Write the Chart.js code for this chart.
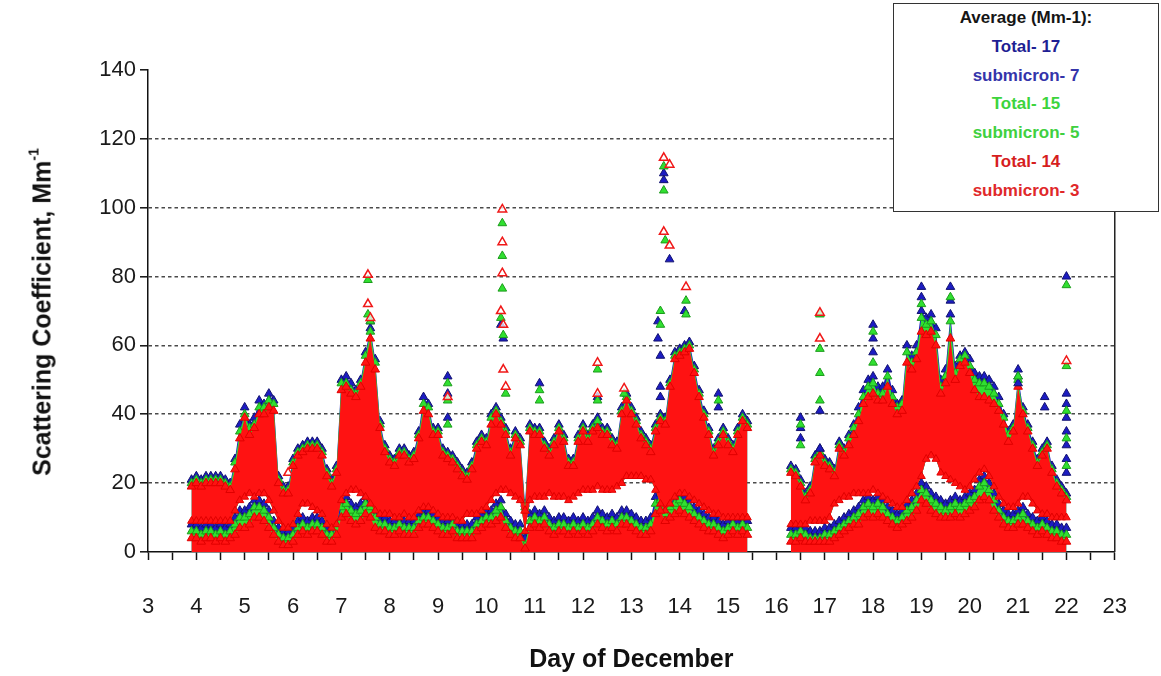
<!DOCTYPE html>
<html>
<head>
<meta charset="utf-8">
<script src="https://cdn.jsdelivr.net/npm/chart.js@4.4.1/dist/chart.umd.min.js"></script>
<style>
  html, body { margin: 0; padding: 0; background: #fff; }
  #wrap { position: relative; width: 1161px; height: 676px; overflow: hidden; background: #fff; }
  #c { position: absolute; left: 0; top: 0; }
  #ytitle {
    position: absolute; left: 42px; top: 312px;
    transform: translate(-50%, -50%) rotate(-90deg);
    white-space: nowrap; color: #111;
    font: bold 25px "Liberation Sans", Arial, sans-serif;
  }
  #ytitle sup { font-size: 14px; position: relative; top: -3px; }
  #avg {
    position: absolute; left: 893px; top: 3px; width: 266px; height: 209px;
    border: 1.5px solid #333; background: #fff; box-sizing: border-box;
    text-align: center; padding-top: 0;
    font: bold 17px "Liberation Sans", Arial, sans-serif; line-height: 28.8px;
  }
</style>
</head>
<body>
<div id="wrap">
  <canvas id="c" width="1161" height="676"></canvas>
  <div id="ytitle">Scattering Coefficient, Mm<sup>-1</sup></div>
  <div id="avg"></div>
</div>
<script>
// Readings every 0.1 day starting at day 3.9; null = instrument offline (15.5 - 16.2)
const T0 = 3.9, STEP = 0.1;

// Upper envelope of the total-scattering points, per nephelometer colour
const blueTotalHi = [
  /* 3.9 */ 21,
  /* 4 */ 22, 21, 22, 22, 22, 22, 21, 20, 27, 37,
  /* 5 */ 42, 37, 39, 44, 43, 46, 44, 22, 19, 19,
  /* 6 */ 27, 30, 31, 32, 32, 32, 30, 24, 21, 25,
  /* 7 */ 50, 51, 49, 47, 50, 58, 65, 56, 38, 31,
  /* 8 */ 28, 27, 30, 30, 28, 29, 35, 45, 43, 36,
  /* 9 */ 36, 30, 29, 28, 26, 24, 23, 26, 32, 34,
  /* 10 */ 33, 40, 42, 39, 36, 30, 35, 33, 14, 37,
  /* 11 */ 36, 36, 32, 30, 33, 37, 34, 27, 27, 34,
  /* 12 */ 37, 34, 37, 39, 36, 36, 33, 32, 42, 46,
  /* 13 */ 42, 39, 35, 33, 31, 37, 40, 39, 50, 58,
  /* 14 */ 59, 60, 61, 54, 47, 41, 36, 30, 33, 36,
  /* 15 */ 33, 31, 36, 40, 38, null, null, null, null, null,
  /* 16 */ null, null, null, 25, 24, 21, 17, 19, 28, 30,
  /* 17 */ 27, 26, 24, 32, 30, 34, 37, 42, 47, 50,
  /* 18 */ 51, 48, 48, 53, 47, 43, 44, 60, 57, 60,
  /* 19 */ 70, 68, 69, 65, 50, 53, 69, 54, 57, 58,
  /* 20 */ 56, 52, 51, 51, 50, 48, 45, 40, 35, 37,
  /* 21 */ 51, 42, 37, 32, 27, 30, 32, 25, 21, 19,
  /* 22 */ 17
];
const greenTotalHi = [
  /* 3.9 */ 20,
  /* 4 */ 21, 20, 21, 21, 21, 21, 20, 19, 26, 35,
  /* 5 */ 40, 36, 37, 42, 42, 44, 43, 21, 18, 18,
  /* 6 */ 26, 29, 30, 31, 31, 31, 29, 23, 20, 24,
  /* 7 */ 49, 49, 47, 46, 49, 57, 64, 55, 37, 30,
  /* 8 */ 27, 26, 29, 29, 27, 28, 34, 43, 42, 35,
  /* 9 */ 35, 29, 28, 27, 25, 23, 22, 25, 31, 33,
  /* 10 */ 32, 39, 41, 38, 35, 29, 34, 32, 13, 36,
  /* 11 */ 35, 35, 31, 29, 32, 36, 33, 26, 26, 33,
  /* 12 */ 36, 33, 36, 38, 35, 35, 32, 31, 41, 45,
  /* 13 */ 41, 38, 34, 32, 30, 36, 39, 38, 49, 57,
  /* 14 */ 58, 59, 60, 53, 46, 40, 35, 29, 32, 35,
  /* 15 */ 32, 30, 35, 39, 37, null, null, null, null, null,
  /* 16 */ null, null, null, 24, 23, 20, 16, 18, 27, 29,
  /* 17 */ 26, 25, 23, 31, 29, 33, 36, 40, 45, 48,
  /* 18 */ 49, 46, 46, 51, 45, 42, 43, 58, 55, 58,
  /* 19 */ 68, 66, 67, 63, 48, 51, 67, 52, 56, 57,
  /* 20 */ 54, 50, 49, 49, 48, 46, 43, 39, 34, 36,
  /* 21 */ 50, 41, 36, 31, 26, 29, 31, 24, 20, 18,
  /* 22 */ 16
];
const redTotalHi = [
  /* 3.9 */ 19,
  /* 4 */ 20, 19, 20, 20, 20, 20, 19, 18, 24, 33,
  /* 5 */ 39, 34, 36, 40, 40, 42, 41, 20, 17, 17,
  /* 6 */ 25, 28, 29, 30, 30, 30, 28, 22, 19, 23,
  /* 7 */ 47, 48, 46, 45, 48, 55, 62, 53, 36, 29,
  /* 8 */ 26, 25, 28, 28, 26, 27, 33, 41, 40, 34,
  /* 9 */ 34, 28, 27, 26, 24, 22, 21, 24, 30, 32,
  /* 10 */ 31, 37, 40, 37, 34, 28, 33, 31, 12, 35,
  /* 11 */ 34, 34, 30, 28, 31, 35, 32, 25, 25, 32,
  /* 12 */ 35, 32, 35, 36, 34, 34, 31, 30, 40, 44,
  /* 13 */ 40, 37, 33, 31, 29, 35, 38, 37, 48, 56,
  /* 14 */ 57, 58, 59, 52, 45, 39, 34, 28, 31, 34,
  /* 15 */ 31, 29, 34, 38, 36, null, null, null, null, null,
  /* 16 */ null, null, null, 23, 22, 19, 15, 17, 26, 28,
  /* 17 */ 25, 24, 22, 30, 28, 31, 34, 38, 43, 45,
  /* 18 */ 46, 44, 44, 48, 43, 40, 41, 55, 53, 56,
  /* 19 */ 64, 63, 64, 60, 46, 49, 62, 50, 54, 55,
  /* 20 */ 52, 47, 45, 45, 44, 43, 41, 37, 32, 35,
  /* 21 */ 48, 40, 35, 30, 25, 28, 30, 23, 19, 17,
  /* 22 */ 15
];
// Lower edge of the total-scattering cloud
const redTotalLo = [
  /* 3.9 */ 9,
  /* 4 */ 9, 9, 9, 9, 9, 9, 9, 9, 12, 15,
  /* 5 */ 16, 17, 16, 17, 17, 15, 12, 9, 7, 7,
  /* 6 */ 8, 11, 14, 14, 13, 12, 11, 8, 7, 8,
  /* 7 */ 15, 17, 18, 18, 17, 16, 14, 12, 11, 11,
  /* 8 */ 11, 10, 10, 11, 10, 10, 12, 13, 13, 12,
  /* 9 */ 11, 10, 10, 10, 9, 9, 11, 11, 11, 12,
  /* 10 */ 13, 15, 17, 18, 18, 17, 16, 15, 6, 15,
  /* 11 */ 16, 16, 16, 17, 16, 16, 16, 15, 16, 17,
  /* 12 */ 18, 18, 18, 19, 18, 18, 18, 19, 20, 22,
  /* 13 */ 22, 22, 22, 21, 21, 18, 14, 12, 14, 16,
  /* 14 */ 17, 17, 16, 15, 14, 13, 12, 11, 11, 10,
  /* 15 */ 10, 10, 10, 10, 10, null, null, null, null, null,
  /* 16 */ null, null, null, 8, 8, 8, 8, 9, 9, 9,
  /* 17 */ 9, 10, 14, 15, 16, 16, 17, 17, 17, 17,
  /* 18 */ 18, 17, 16, 15, 14, 13, 13, 15, 17, 19,
  /* 19 */ 22, 27, 28, 27, 23, 22, 21, 20, 19, 18,
  /* 20 */ 19, 21, 23, 24, 22, 19, 16, 14, 13, 13,
  /* 21 */ 14, 16, 16, 14, 12, 11, 11, 10, 10, 10,
  /* 22 */ 10
];

// Upper envelope of the submicron points
const blueSubHi = [
  /* 3.9 */ 8,
  /* 4 */ 8, 7, 8, 8, 7, 8, 7, 8, 10, 12,
  /* 5 */ 12, 13, 15, 15, 14, 12, 9, 7, 6, 6,
  /* 6 */ 7, 9, 10, 9, 10, 10, 9, 7, 7, 9,
  /* 7 */ 15, 16, 14, 13, 14, 16, 15, 12, 10, 10,
  /* 8 */ 9, 9, 10, 9, 9, 9, 11, 12, 12, 11,
  /* 9 */ 10, 9, 9, 10, 8, 8, 8, 8, 10, 11,
  /* 10 */ 12, 12, 14, 15, 11, 9, 8, 8, 4, 11,
  /* 11 */ 12, 11, 12, 10, 9, 10, 10, 9, 10, 9,
  /* 12 */ 10, 9, 10, 12, 11, 10, 11, 10, 12, 12,
  /* 13 */ 11, 10, 9, 9, 10, 16, 17, 13, 15, 16,
  /* 14 */ 17, 16, 15, 13, 12, 11, 10, 10, 9, 8,
  /* 15 */ 9, 10, 9, 10, 9, null, null, null, null, null,
  /* 16 */ null, null, null, 7, 7, 8, 7, 6, 6, 6,
  /* 17 */ 7, 7, 8, 9, 10, 11, 12, 13, 15, 16,
  /* 18 */ 15, 16, 15, 13, 12, 11, 12, 14, 15, 17,
  /* 19 */ 20, 19, 17, 16, 15, 14, 15, 16, 15, 16,
  /* 20 */ 17, 18, 21, 22, 20, 17, 14, 12, 11, 11,
  /* 21 */ 12, 13, 11, 10, 9, 10, 9, 8, 8, 7,
  /* 22 */ 7
];
const greenSubHi = [
  /* 3.9 */ 6,
  /* 4 */ 6, 5, 6, 6, 5, 6, 5, 6, 8, 10,
  /* 5 */ 10, 11, 13, 13, 12, 10, 7, 5, 4, 4,
  /* 6 */ 5, 7, 8, 7, 8, 8, 7, 5, 5, 7,
  /* 7 */ 13, 14, 12, 11, 12, 14, 13, 10, 8, 8,
  /* 8 */ 7, 7, 8, 7, 7, 7, 9, 10, 10, 9,
  /* 9 */ 8, 7, 7, 8, 6, 6, 6, 6, 8, 9,
  /* 10 */ 10, 10, 12, 13, 9, 7, 6, 6, 2, 9,
  /* 11 */ 10, 9, 10, 8, 7, 8, 8, 7, 8, 7,
  /* 12 */ 8, 7, 8, 10, 9, 8, 9, 8, 10, 10,
  /* 13 */ 9, 8, 7, 7, 8, 14, 15, 11, 13, 14,
  /* 14 */ 15, 14, 13, 11, 10, 9, 8, 8, 7, 6,
  /* 15 */ 7, 8, 7, 8, 7, null, null, null, null, null,
  /* 16 */ null, null, null, 5, 5, 6, 5, 4, 4, 4,
  /* 17 */ 5, 5, 6, 7, 8, 9, 10, 11, 13, 14,
  /* 18 */ 13, 14, 13, 11, 10, 9, 10, 12, 13, 15,
  /* 19 */ 18, 17, 15, 14, 13, 12, 13, 14, 13, 14,
  /* 20 */ 15, 16, 19, 20, 18, 15, 12, 10, 9, 9,
  /* 21 */ 10, 11, 9, 8, 7, 8, 7, 6, 6, 5,
  /* 22 */ 5
];
const redSubHi = [
  /* 3.9 */ 4,
  /* 4 */ 4, 3, 4, 4, 3, 4, 3, 4, 5, 7,
  /* 5 */ 7, 8, 10, 10, 9, 7, 5, 3, 2, 2,
  /* 6 */ 3, 5, 6, 5, 6, 6, 5, 3, 3, 5,
  /* 7 */ 10, 11, 9, 8, 9, 11, 10, 7, 6, 6,
  /* 8 */ 5, 5, 6, 5, 5, 5, 7, 8, 8, 7,
  /* 9 */ 6, 5, 5, 6, 4, 4, 4, 4, 6, 7,
  /* 10 */ 8, 8, 9, 10, 7, 5, 4, 4, 1, 7,
  /* 11 */ 8, 7, 8, 6, 5, 6, 6, 5, 6, 5,
  /* 12 */ 6, 5, 6, 8, 7, 6, 7, 6, 8, 8,
  /* 13 */ 7, 6, 5, 5, 6, 11, 12, 9, 10, 11,
  /* 14 */ 12, 11, 10, 9, 8, 7, 6, 6, 5, 4,
  /* 15 */ 5, 6, 5, 6, 5, null, null, null, null, null,
  /* 16 */ null, null, null, 3, 3, 4, 3, 3, 3, 3,
  /* 17 */ 3, 3, 4, 5, 6, 7, 8, 8, 10, 11,
  /* 18 */ 10, 11, 10, 9, 8, 7, 8, 9, 10, 12,
  /* 19 */ 15, 14, 12, 11, 10, 10, 10, 11, 10, 11,
  /* 20 */ 12, 13, 15, 16, 15, 12, 10, 8, 7, 7,
  /* 21 */ 8, 8, 7, 6, 5, 6, 5, 4, 4, 3,
  /* 22 */ 3
];

// Isolated high readings (plume events)
const blueSpikeDays = [7.6, 9.2, 9.2, 9.2, 10.3, 10.35, 11.1, 12.3, 13.55, 13.55, 13.6, 13.6, 13.6, 13.67, 13.67, 13.79, 14.1, 14.8, 14.8, 16.5, 16.5, 16.5, 16.9, 16.9, 18.0, 18.0, 18.0, 19.0, 19.0, 19.6, 19.6, 21.0, 21.0, 21.55, 21.55, 22.0, 22.0, 22.0, 22.0, 22.0, 22.0, 22.0, 22.0];
const blueSpikeVals = [67, 51, 46, 39, 66, 62, 49, 45, 67, 62, 57, 48, 45, 110, 108, 85, 70, 46, 42, 39, 36, 33, 41, 30, 66, 62, 58, 77, 74, 77, 73, 53, 49, 45, 42, 80, 46, 43, 39, 35, 31, 27, 23];
const greenSpikeDays = [7.55, 7.55, 7.6, 9.2, 9.2, 9.2, 10.33, 10.33, 10.33, 10.3, 10.35, 10.4, 11.1, 11.1, 12.3, 12.3, 12.85, 13.67, 13.67, 13.7, 13.6, 13.6, 14.13, 14.13, 14.8, 16.5, 16.5, 16.9, 16.9, 16.9, 16.9, 18.0, 18.0, 19.0, 19.6, 21.0, 22.0, 22.0, 22.0, 22.0, 22.0];
const greenSpikeVals = [79, 69, 67, 49, 44, 37, 95.5, 86, 76.5, 68, 63, 46, 47, 44, 53, 44, 46, 112, 105, 90.5, 70, 66, 73, 69, 44, 37, 31, 69, 59, 52, 44, 64, 55, 72, 74, 51, 77.5, 54, 41, 33, 25];
const redSpikeDays = [5.9, 7.55, 7.55, 7.6, 9.2, 10.33, 10.33, 10.33, 10.3, 10.35, 10.35, 10.4, 12.3, 12.3, 12.85, 13.67, 13.79, 13.67, 13.79, 14.13, 16.9, 16.9, 22.0];
const redSpikeVals = [23, 80.5, 72, 68, 45, 99.5, 90, 81, 70, 66, 53, 48, 55, 46, 47.5, 114.5, 112.5, 93, 89, 77, 69.5, 62, 55.5];

// Campaign averages shown in the box
const avgHeading = 'Average (Mm-1):';
const avgNames = ['Total', 'submicron', 'Total', 'submicron', 'Total', 'submicron'];
const avgValues = [17, 7, 15, 5, 14, 3];
const avgColors = ['#1f1f94', '#3434aa', '#3cd43c', '#40d040', '#d61e1e', '#e0282a'];

// Axis ticks
const yTicks = [0, 20, 40, 60, 80, 100, 120, 140];
const dayMin = 3, dayMax = 23;

// ---- build the chart ----
const days = blueTotalHi.map((_, i) => Math.round((T0 + i * STEP) * 10) / 10);
const asPoints = vals => vals.map((v, i) => ({ x: days[i], y: v }));
const pairUp = (ds, vs) => ds.map((d, i) => ({ x: d, y: vs[i] }));

const BLUE = '#1c1cc2', BLUE_EDGE = '#121270';
const GREEN = '#30e030', GREEN_EDGE = '#1c9c1c';
const RED = '#ff1212', RED_EDGE = '#e00000';

function band(label, vals, fill, colour, edge, order) {
  return {
    label, data: asPoints(vals), order,
    fill, backgroundColor: colour, borderColor: colour, borderWidth: 0,
    pointStyle: 'triangle', pointRadius: 5, pointBorderWidth: 1,
    pointBackgroundColor: colour, pointBorderColor: edge,
    spanGaps: false, tension: 0
  };
}
function spikes(label, ds, vs, fillCol, edge, order, width) {
  return {
    label, data: pairUp(ds, vs), order, showLine: false, fill: false,
    pointStyle: 'triangle', pointRadius: 5, pointBorderWidth: width,
    pointBackgroundColor: fillCol, pointBorderColor: edge,
    backgroundColor: fillCol, borderColor: edge
  };
}

// dataset index 0 is the lower edge of the total cloud, used as fill target
const datasets = [
  { label: 'total lower edge', data: asPoints(redTotalLo), order: 2, fill: false,
    borderWidth: 0, borderColor: 'rgba(0,0,0,0)', spanGaps: false,
    pointStyle: 'triangle', pointRadius: 4.5, pointBorderWidth: 1,
    pointBackgroundColor: RED, pointBorderColor: RED_EDGE },
  band('Total (blue)', blueTotalHi, { target: 0 }, BLUE, BLUE_EDGE, 6),
  band('submicron (blue)', blueSubHi, 'origin', BLUE, BLUE_EDGE, 5),
  band('Total (green)', greenTotalHi, { target: 0 }, GREEN, GREEN_EDGE, 4),
  band('submicron (green)', greenSubHi, 'origin', GREEN, GREEN_EDGE, 3),
  band('Total (red)', redTotalHi, { target: 0 }, RED, RED_EDGE, 2),
  band('submicron (red)', redSubHi, 'origin', RED, RED_EDGE, 1),
  spikes('events (red)', redSpikeDays, redSpikeVals, 'rgba(255,255,255,0.75)', '#f01818', 0, 1.5),
  spikes('events (green)', greenSpikeDays, greenSpikeVals, GREEN, GREEN_EDGE, 0, 1),
  spikes('events (blue)', blueSpikeDays, blueSpikeVals, BLUE, BLUE_EDGE, 0, 1)
];

const rightFrame = {
  id: 'rightFrame',
  afterDraw(chart) {
    const { ctx, chartArea: a } = chart;
    ctx.save();
    ctx.strokeStyle = '#222';
    ctx.lineWidth = 1.5;
    ctx.beginPath();
    ctx.moveTo(a.right, a.top);
    ctx.lineTo(a.right, a.bottom);
    ctx.stroke();
    ctx.restore();
  }
};

const FONT = '"Liberation Sans", Arial, sans-serif';

new Chart(document.getElementById('c'), {
  type: 'line',
  data: { datasets },
  plugins: [rightFrame],
  options: {
    responsive: false,
    devicePixelRatio: 1,
    animation: false,
    events: [],
    layout: { padding: { left: 0, right: 23, top: 70, bottom: 0 } },
    plugins: {
      legend: { display: false },
      tooltip: { enabled: false },
      title: { display: false },
      filler: { propagate: false }
    },
    scales: {
      x: {
        type: 'linear', min: dayMin, max: dayMax,
        afterFit(scale) { scale.height = 124; },
        ticks: {
          stepSize: 0.5, autoSkip: false, maxRotation: 0, padding: 34,
          color: '#1a1a1a', font: { family: FONT, size: 22 },
          callback: v => (Math.abs(v - Math.round(v)) < 1e-6 ? String(Math.round(v)) : '')
        },
        grid: { drawOnChartArea: false, drawTicks: true, tickLength: 8, tickColor: '#111', tickWidth: 1.5 },
        border: { display: true, color: '#111', width: 1.5 },
        title: {
          display: true, text: 'Day of December', color: '#111',
          font: { family: FONT, size: 25, weight: 'bold' }, padding: { top: 0, bottom: 1 }
        }
      },
      y: {
        type: 'linear', min: 0, max: 140,
        afterFit(scale) { scale.width = 148; },
        afterBuildTicks(scale) { scale.ticks = yTicks.map(v => ({ value: v })); },
        ticks: { padding: 4, color: '#1a1a1a', font: { family: FONT, size: 22 } },
        grid: {
          drawOnChartArea: true, drawTicks: true, tickLength: 8,
          color: ctx => (ctx.tick && (ctx.tick.value === 0 || ctx.tick.value === 140) ? 'rgba(0,0,0,0)' : '#4a4a4a'),
          lineWidth: 1.6, tickColor: '#111', tickWidth: 1.5, tickBorderDash: []
        },
        border: { display: true, color: '#111', width: 1.5, dash: [3.5, 3] }
      }
    }
  }
});

// averages box
const box = document.getElementById('avg');
const head = document.createElement('div');
head.textContent = avgHeading;
head.style.color = '#151515';
box.appendChild(head);
avgNames.forEach((n, i) => {
  const line = document.createElement('div');
  line.textContent = n + '- ' + avgValues[i];
  line.style.color = avgColors[i];
  box.appendChild(line);
});
</script>
</body>
</html>
